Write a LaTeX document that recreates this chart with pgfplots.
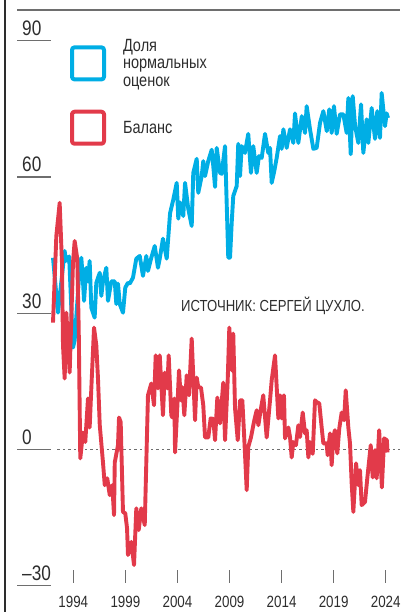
\documentclass[border=0pt]{standalone}
\usepackage{fontspec}
\setmainfont[FakeStretch=0.82]{Liberation Sans}
\usepackage{pgfplots}
\pgfplotsset{compat=1.18}
\definecolor{cblue}{RGB}{0,174,229}
\definecolor{cred}{RGB}{226,58,74}
\definecolor{ctext}{RGB}{45,45,45}
\definecolor{cgray}{RGB}{110,110,110}
\begin{document}
\begin{tikzpicture}
\begin{axis}[
  width=400pt, height=612pt, scale only axis,
  xmin=1986.961, xmax=2025.371, ymin=-35.85, ymax=98.99,
  axis line style={draw=none},
  tick style={draw=none},
  major tick length=0pt,
  clip=false,
  xtick={1994,1999,2004,2009,2014,2019,2024},
  xticklabels={1994,1999,2004,2009,2014,2019,2024},
  ytick={-30,0,30,60,90},
  yticklabels={–30,0,30,60,90},
  xticklabel style={font=\fontsize{16.3}{16}\selectfont, text=ctext, anchor=base, inner sep=0pt, yshift=4.5pt},
  yticklabel style={font=\fontsize{21}{21}\selectfont, text=ctext, anchor=base west, inner sep=0pt, xshift=22pt, yshift=5pt},
  /pgf/number format/assume math mode=true,
  legend cell align=left,
  legend image code/.code={\draw[#1, line width=4pt, rounded corners=2.5pt, fill=none] (0pt,-16pt) rectangle (32pt,16pt);},
  legend style={at={(axis cs:1993.683,90.39)}, anchor=north west, draw=none, fill=none, inner sep=0pt, outer sep=0pt,
    row sep=22pt, font=\fontsize{17.7}{17.5}\selectfont, text=ctext,
    nodes={inner sep=0pt, align=left},
    /tikz/every odd column/.append style={column sep=17pt}},
]
% frame lines
\addplot[forget plot, ctext, line width=1.2pt] coordinates {(1987.442,-35.85) (1987.442,98.99)};
\addplot[forget plot, cgray, line width=1.2pt] coordinates {(1988.623,96.78) (2025.371,96.78)};
% y level underlines
\addplot[forget plot, cgray, line width=1.1pt, unbounded coords=jump] coordinates {
(1988.623,90) (1991.859,90) (1990,nan)
(1988.623,60) (1991.859,60) (1990,nan)
(1988.623,30) (1991.859,30) (1990,nan)
(1988.623,0) (1991.859,0) (1990,nan)
(1988.623,-30) (1991.859,-30)};
% x tick marks
\addplot[forget plot, cgray, line width=1.2pt, unbounded coords=jump] coordinates {
(1994,-26.6) (1994,-29.46) (1994,nan)
(1999,-26.6) (1999,-29.46) (1999,nan)
(2004,-26.6) (2004,-29.46) (2004,nan)
(2009,-26.6) (2009,-29.46) (2009,nan)
(2014,-26.6) (2014,-29.46) (2014,nan)
(2019,-26.6) (2019,-29.46) (2019,nan)
(2024,-26.6) (2024,-29.46)};
% zero line
\addplot[forget plot, cgray, line width=1pt, dash pattern=on 2.5pt off 3pt] coordinates {(1992.464,0) (2025.371,0)};
% Доля нормальных оценок
\addplot[cblue, line width=3.9pt, line join=round] coordinates {
(1992.05,42.2) (1992.53,30.1) (1993.17,43.7) (1993.30,41.5) (1993.60,42.5)
(1993.97,22.4) (1994.13,24) (1994.61,39.8) (1994.77,42.2) (1994.93,37)
(1995.03,32.7) (1995.25,40) (1995.41,37) (1995.57,41.5) (1995.73,31.2)
(1996.05,29) (1996.21,36.7) (1996.54,38.9) (1996.69,33.8) (1996.85,37)
(1997.17,40) (1997.33,32.7) (1997.65,37) (1997.98,37) (1998.13,32)
(1998.29,36.5) (1998.46,32) (1998.77,30.1) (1998.99,35.6) (1999.25,36.7)
(1999.42,36.5) (1999.73,37.8) (2000.05,42) (2000.38,42.6) (2000.69,38.2)
(2001.01,42.6) (2001.17,39.3) (2001.49,42.2) (2001.82,44.8) (2002.13,40)
(2002.30,42) (2002.61,46.4) (2002.97,42) (2003.29,52) (2003.60,55)
(2003.93,58.7) (2004.08,50.8) (2004.25,54.4) (2004.56,51.4) (2004.73,58.7)
(2005.04,53) (2005.37,49.2) (2005.52,60.9) (2005.85,64) (2006.00,56.5)
(2006.33,60.2) (2006.48,63.5) (2006.65,60.2) (2006.96,63.5) (2007.29,66)
(2007.44,62.4) (2007.61,57.8) (2007.77,66.4) (2008.09,60.9) (2008.25,60.7)
(2008.57,66.8) (2008.88,42.2) (2009.05,42.2) (2009.21,49.9) (2009.36,55.8)
(2009.69,58) (2009.84,67.3) (2010.01,60.2) (2010.17,66.8) (2010.48,65.3)
(2010.80,69.5) (2011.06,60.9) (2011.28,66.8) (2011.61,60.9) (2011.83,64.6)
(2012.09,64.2) (2012.41,69.5) (2012.72,65.3) (2012.89,66.4) (2013.05,58.7)
(2013.30,61.3) (2013.53,64.2) (2013.85,69) (2014.01,66.2) (2014.17,70.5)
(2014.49,66.4) (2014.81,70.5) (2015.13,67.5) (2015.29,74) (2015.61,67.5)
(2015.94,73.4) (2016.25,69.7) (2016.41,75.6) (2016.73,70.5) (2017.05,66.2)
(2017.37,66.4) (2017.69,71.9) (2018.01,74.5) (2018.34,70.1) (2018.58,74.9)
(2018.81,69.7) (2019.03,75.6) (2019.29,69.5) (2019.61,73.8) (2019.93,73.8)
(2020.25,69.7) (2020.41,77.4) (2020.64,65) (2020.83,77.8) (2021.06,71.2)
(2021.37,67.5) (2021.63,76) (2021.85,65.3) (2022.17,72.7) (2022.33,67.5)
(2022.65,75.2) (2022.97,68.4) (2023.19,74.5) (2023.45,68.6) (2023.61,78.5)
(2023.93,71.2) (2024.09,74) (2024.22,73)};
\addlegendentry{Доля\\нормальных\\оценок}
% Баланс
\addplot[cred, line width=3.9pt, line join=round] coordinates {
(1992.05,27.9) (1992.37,47) (1992.69,54.3) (1992.91,41.2) (1993.01,22.9)
(1993.17,15.6) (1993.33,30.1) (1993.65,16.9) (1993.97,41.1) (1994.13,45.9)
(1994.38,42) (1994.52,26.6) (1994.67,-2) (1994.93,3.7) (1995.15,1.6)
(1995.41,11.2) (1995.57,4.8) (1995.73,13.4) (1995.99,26.8) (1996.21,22.9)
(1996.37,15.6) (1996.54,5.3) (1996.85,-2.9) (1997.02,-7.9) (1997.26,-6.4)
(1997.50,-10.1) (1997.74,-7.9) (1997.91,-14.5) (1997.98,-2.9) (1998.29,0.9)
(1998.39,7) (1998.55,6) (1998.77,-13.8) (1998.99,-14.1) (1999.16,-17.4)
(1999.25,-23.3) (1999.57,-20.4) (1999.83,-25.5) (2000.05,-13) (2000.28,-17.8)
(2000.53,-13) (2000.86,-16.7) (2001.17,11.9) (2001.49,14.5) (2001.75,9.7)
(2001.91,20.7) (2002.13,13.4) (2002.30,20.7) (2002.61,7.5) (2002.78,16.9)
(2003.03,13.4) (2003.16,20.7) (2003.41,7.5) (2003.51,7) (2003.70,11.2)
(2003.77,-0.7) (2004.02,10.8) (2004.15,17.4) (2004.34,10.8) (2004.47,13.7)
(2004.66,7.5) (2004.89,16.3) (2005.11,11.9) (2005.37,24.4) (2005.69,6.4)
(2005.85,15.8) (2006.00,13.7) (2006.26,13.6) (2006.48,9.7) (2006.65,2.6)
(2006.96,2.6) (2007.19,6.8) (2007.44,6.7) (2007.61,2) (2007.83,11.4)
(2008.09,5.7) (2008.40,14.7) (2008.57,2) (2008.83,15.5) (2008.98,26.8)
(2009.21,17.4) (2009.36,25.5) (2009.53,9) (2009.79,2) (2010.01,10.8)
(2010.23,10.8) (2010.39,3.7) (2010.65,-9) (2010.80,0.5) (2011.06,2.6)
(2011.38,6.4) (2011.61,8.6) (2011.77,5.3) (2011.99,8.6) (2012.24,11.9)
(2012.57,2.6) (2012.89,10.8) (2013.05,15.2) (2013.37,20.7) (2013.69,6.8)
(2013.85,11.9) (2014.01,6.8) (2014.23,11.9) (2014.33,2.4) (2014.65,4.8)
(2014.81,2.7) (2014.97,-1.8) (2015.13,1.6) (2015.38,0.9) (2015.61,5.3)
(2015.77,2.7) (2016.03,8.1) (2016.25,3.5) (2016.41,4.2) (2016.57,-1.8)
(2016.73,1.6) (2016.99,-1) (2017.21,10.8) (2017.37,10.4) (2017.62,10.1)
(2017.85,4.8) (2018.01,1.3) (2018.33,1.3) (2018.42,-1.3) (2018.65,3.5)
(2018.81,-3.5) (2018.97,2.7) (2019.12,4.2) (2019.35,-0.9) (2019.54,4.6)
(2019.77,8.1) (2020.00,6.4) (2020.16,13) (2020.41,4.8) (2020.57,1.3)
(2020.73,-7.5) (2020.89,-13.8) (2021.15,-3.1) (2021.37,-7.9) (2021.53,-4.6)
(2021.69,-12.3) (2022.01,-11.6) (2022.23,-6.4) (2022.56,0.9) (2022.75,-6.2)
(2022.97,-0.2) (2023.13,-6.4) (2023.37,4.2) (2023.63,-8.4) (2023.85,2.4)
(2024.11,2) (2024.17,-0.7)};
\addlegendentry{Баланс}
\node[anchor=base west, inner sep=0pt, text=ctext, font=\fontsize{16}{16}\selectfont] at (axis cs:2004.342,30.25) {ИСТОЧНИК: СЕРГЕЙ ЦУХЛО.};
\end{axis}
\pgfresetboundingbox
\useasboundingbox (current axis.south west) rectangle (current axis.north east);
\end{tikzpicture}
\end{document}
